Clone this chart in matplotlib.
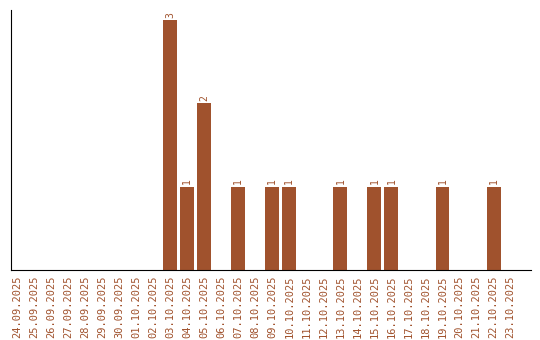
import matplotlib
matplotlib.use("Agg")
import matplotlib.pyplot as plt

dates = ["24.09.2025", "25.09.2025", "26.09.2025", "27.09.2025", "28.09.2025",
         "29.09.2025", "30.09.2025", "01.10.2025", "02.10.2025", "03.10.2025",
         "04.10.2025", "05.10.2025", "06.10.2025", "07.10.2025", "08.10.2025",
         "09.10.2025", "10.10.2025", "11.10.2025", "12.10.2025", "13.10.2025",
         "14.10.2025", "15.10.2025", "16.10.2025", "17.10.2025", "18.10.2025",
         "19.10.2025", "20.10.2025", "21.10.2025", "22.10.2025", "23.10.2025"]
counts = [0, 0, 0, 0, 0, 0, 0, 0, 0, 3,
          1, 2, 0, 1, 0, 1, 1, 0, 0, 1,
          0, 1, 1, 0, 0, 1, 0, 0, 1, 0]

color = "#a0522d"

fig = plt.figure(figsize=(5.4, 3.4), dpi=100)
ax = fig.add_axes([11/540, 70/340, 520/540, 260/340])

x = range(len(dates))
ax.bar(x, counts, width=0.82, color=color)

for i, c in enumerate(counts):
    if c > 0:
        ax.text(i, c + 0.03, str(c), rotation=90, ha="center", va="bottom",
                fontsize=7, family="DejaVu Sans Mono", color=color)

ax.set_xlim(-0.35, 30.2)
ax.set_ylim(0, 3.12)
ax.set_xticks(list(x))
ax.set_xticklabels(dates, rotation=90, fontsize=7.5, family="DejaVu Sans Mono", color=color)
ax.tick_params(axis="x", length=0, pad=4)
ax.set_yticks([])
ax.spines["top"].set_visible(False)
ax.spines["right"].set_visible(False)

fig.savefig("out.png", dpi=100)
